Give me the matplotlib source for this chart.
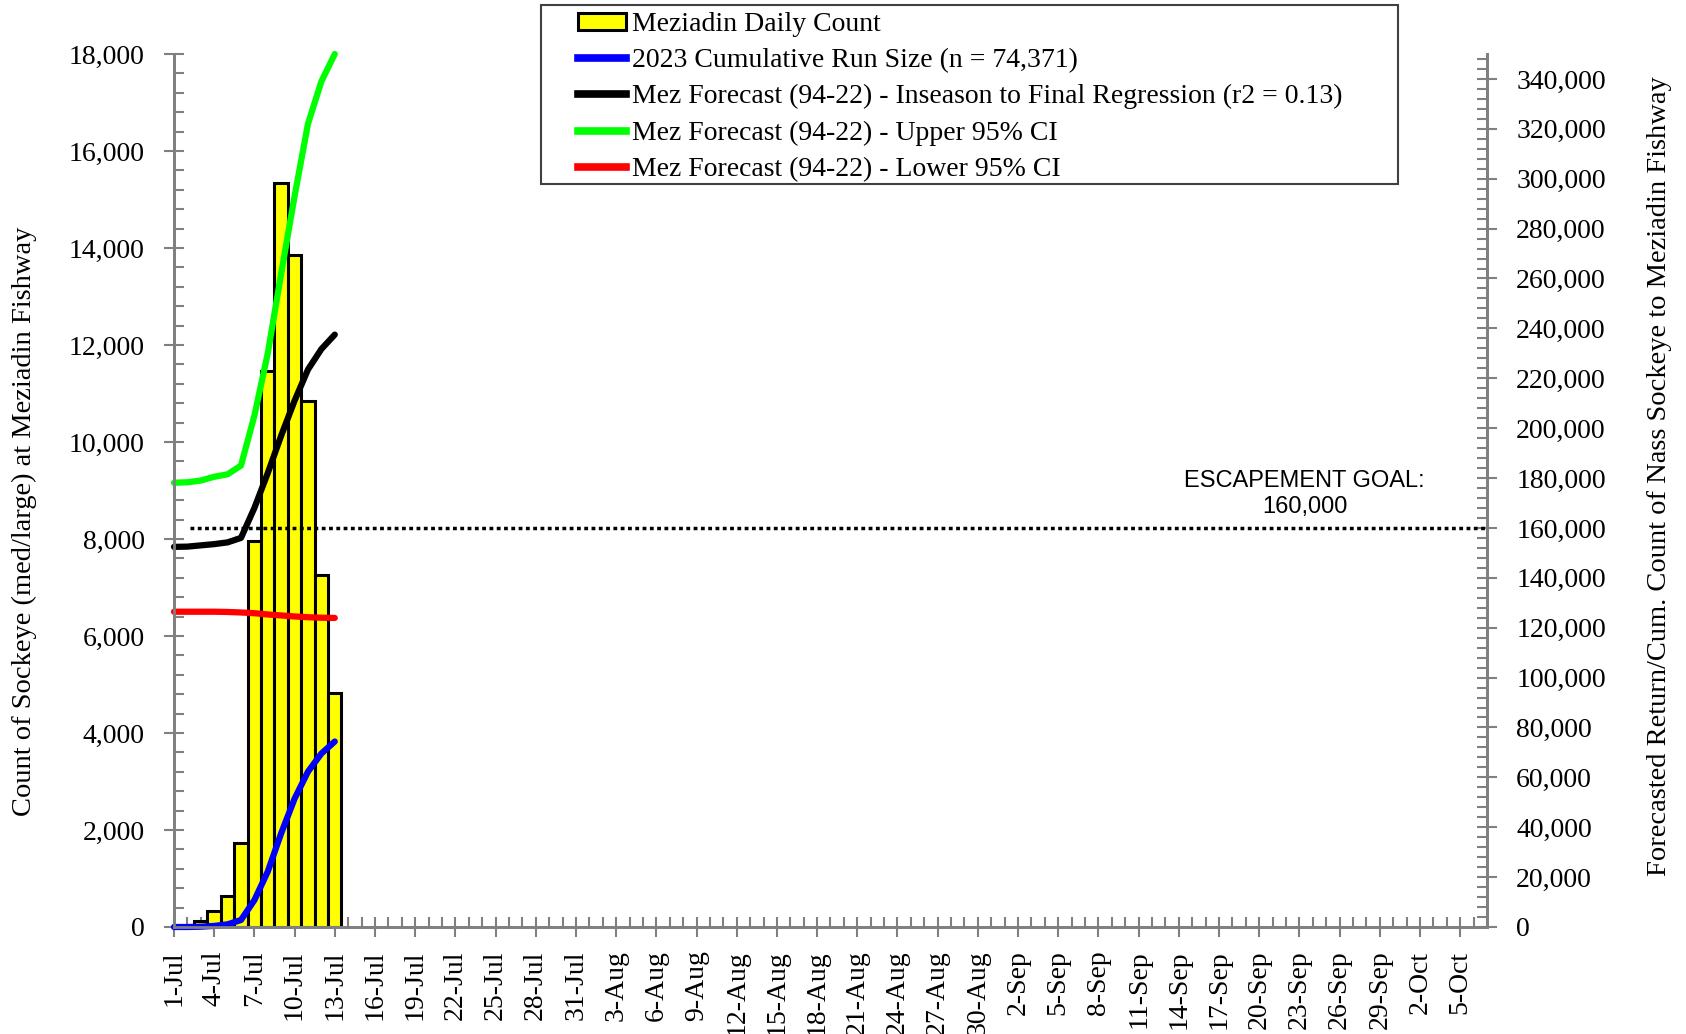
import numpy as np
import pandas as pd
import matplotlib
matplotlib.use('Agg')
import matplotlib.pyplot as plt
import matplotlib.dates as mdates
from matplotlib.ticker import MultipleLocator, FixedLocator, FuncFormatter
from matplotlib.patches import Patch, Rectangle
from matplotlib.lines import Line2D

# Daily counts at the Meziadin fishway, 1-Jul to 13-Jul 2023
dates = pd.date_range('2023-07-01', '2023-07-13', freq='D')
daily_count = [0, 0, 120, 320, 630, 1740, 7960, 11470, 15340, 13860, 10840, 7260, 4831]
cumulative = [0, 0, 120, 440, 1070, 2810, 10770, 22240, 37580, 51440, 62280, 69540, 74371]

# Forecast (94-22 regression) and its 95% CI
forecast = [152400, 152500, 153000, 153500, 154200, 156000, 168000, 182000, 197000,
            211000, 223500, 231700, 237500]
upper_ci = [178100, 178300, 179000, 180500, 181500, 185000, 205000, 230000, 262000,
            293000, 322000, 339000, 350000]
lower_ci = [126400, 126400, 126400, 126400, 126300, 126100, 125800, 125300, 124900,
            124500, 124200, 124000, 123900]

escapement_goal = 160000
goal_start = pd.Timestamp('2023-07-02 05:00')
x_start = pd.Timestamp('2023-07-01')
x_end = pd.Timestamp('2023-10-07')
tick_dates = pd.date_range('2023-07-01', '2023-10-05', freq='3D')

plt.rcParams['font.family'] = 'Liberation Serif'
gray = '#808080'

fig = plt.figure(figsize=(16.86, 10.34), dpi=100)
ax = fig.add_axes([174/1686, 1-927/1034, (1487-174)/1686, (927-54)/1034])
ax2 = ax.twinx()

# bars on the left axis
ax.bar(dates, daily_count, width=1.0, color='#ffff00', edgecolor='black', linewidth=2.2, zorder=2)

# lines on the right axis
ax2.plot(dates, lower_ci, color='#ff0000', lw=4.5, solid_capstyle='round', clip_on=False)
ax2.plot(dates, upper_ci, color='#00ff00', lw=4.5, solid_capstyle='round', clip_on=False)
ax2.plot(dates, forecast, color='black', lw=4.5, solid_capstyle='round', clip_on=False)
ax2.plot(dates, cumulative, color='#0000ff', lw=4.5, solid_capstyle='round', clip_on=False)
ax2.hlines(escapement_goal, goal_start, x_end, colors='black', lw=2.5,
           linestyles=(0, (1.1, 1.0)))

ax.set_xlim(x_start, x_end)
ax.set_ylim(0, 18000)
ax2.set_ylim(0, 350000)

# ticks
ax.xaxis.set_major_locator(FixedLocator(mdates.date2num(tick_dates)))
ax.xaxis.set_minor_locator(mdates.DayLocator())
ax.xaxis.set_major_formatter(FuncFormatter(
    lambda v, p: f"{mdates.num2date(v).day}-{mdates.num2date(v).strftime('%b')}"))
ax.yaxis.set_major_locator(MultipleLocator(2000))
ax.yaxis.set_minor_locator(MultipleLocator(400))
ax2.yaxis.set_major_locator(MultipleLocator(20000))
ax2.yaxis.set_minor_locator(MultipleLocator(4000))
comma = FuncFormatter(lambda v, p: f'{int(v):,}')
ax.yaxis.set_major_formatter(comma)
ax2.yaxis.set_major_formatter(comma)

for a in (ax, ax2):
    a.tick_params(which='major', direction='inout', length=14, width=1.5, color=gray,
                  labelsize=20, labelcolor='black')
    a.tick_params(which='minor', direction='in', length=7, width=1.5, color=gray)
    a.spines['top'].set_visible(False)
    for s in a.spines.values():
        s.set_color(gray)
        s.set_linewidth(2)
ax.tick_params(axis='y', pad=14)
ax2.tick_params(axis='y', pad=14)
ax.tick_params(axis='x', pad=10)
plt.setp(ax.get_xticklabels(), rotation=90)

fig.text(24/1686, 1-521/1034, 'Count of Sockeye (med/large) at Meziadin Fishway',
         rotation=90, ha='center', va='center', fontsize=20.5)
fig.text(1659/1686, 1-476/1034, 'Forecasted Return/Cum. Count of Nass Sockeye to Meziadin Fishway',
         rotation=90, ha='center', va='center', fontsize=20.5)

ax2.text(0.861, 0.496, 'ESCAPEMENT GOAL:\n160,000', transform=ax.transAxes,
         ha='center', va='center', fontsize=17, family='Liberation Sans', linespacing=1.25)

# legend with a separate frame
fig.patches.append(Rectangle((541/1686, 1-184/1034), (1398-541)/1686, (184-5)/1034,
                             transform=fig.transFigure, fill=False, edgecolor='#404040',
                             linewidth=1.5))
handles = [Patch(facecolor='#ffff00', edgecolor='black', linewidth=2.2),
           Line2D([], [], color='#0000ff', lw=5.5),
           Line2D([], [], color='black', lw=5.5),
           Line2D([], [], color='#00ff00', lw=5.5),
           Line2D([], [], color='#ff0000', lw=5.5)]
labels = ['Meziadin Daily Count',
          '2023 Cumulative Run Size (n = 74,371)',
          'Mez Forecast (94-22) - Inseason to Final Regression (r2 = 0.13)',
          'Mez Forecast (94-22) - Upper 95% CI',
          'Mez Forecast (94-22) - Lower 95% CI']
fig.legend(handles, labels, loc='upper left', bbox_to_anchor=(578/1686, 1-12/1034),
           frameon=False, fontsize=20, borderpad=0, borderaxespad=0,
           handlelength=1.73, handleheight=0.55, handletextpad=0.2, labelspacing=0.4)

fig.savefig('out.png', dpi=100)
